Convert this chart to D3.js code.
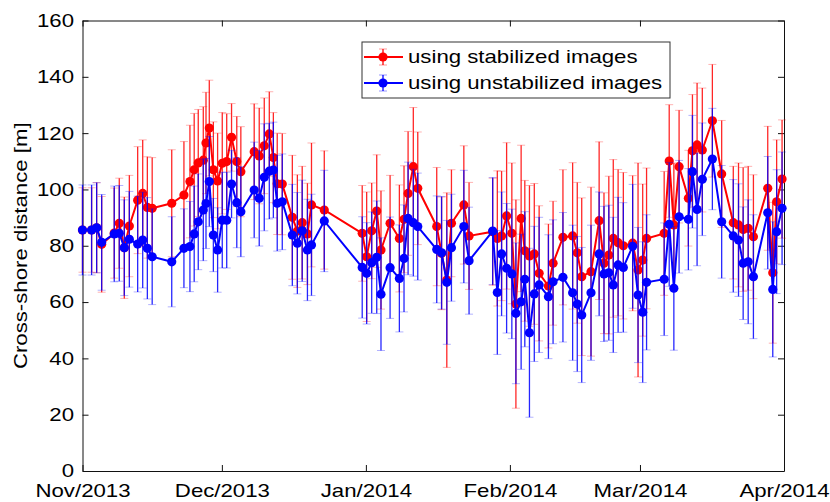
<!DOCTYPE html>
<html>
<head>
<meta charset="utf-8">
<script src="https://cdn.jsdelivr.net/npm/d3@7"></script>
<style>
body { margin: 0; background: #fff; }
text { font-family: "Liberation Sans", Arial, sans-serif; }
</style>
</head>
<body>
<div id="chart"></div>
<script>
// observation times (day, hour)
var dates = [
  "2013-11-01 00","2013-11-02 23","2013-11-04 01","2013-11-05 03","2013-11-07 20","2013-11-08 22",
  "2013-11-10 00","2013-11-11 02","2013-11-12 21","2013-11-13 23","2013-11-14 23","2013-11-16 00",
  "2013-11-20 05","2013-11-22 20","2013-11-24 03","2013-11-25 01","2013-11-25 22","2013-11-27 00",
  "2013-11-27 14","2013-11-28 07","2013-11-29 04","2013-11-30 02","2013-12-01 02","2013-12-02 01",
  "2013-12-03 02","2013-12-04 05","2013-12-05 02","2013-12-07 23","2013-12-09 01","2013-12-10 03",
  "2013-12-11 05","2013-12-12 02","2013-12-12 22","2013-12-14 00","2013-12-16 04","2013-12-17 06",
  "2013-12-18 07","2013-12-19 10","2013-12-20 07","2013-12-23 01","2013-12-31 05","2014-01-01 04",
  "2014-01-02 06","2014-01-03 08","2014-01-04 06","2014-01-06 05","2014-01-08 05","2014-01-09 05",
  "2014-01-10 02","2014-01-11 05","2014-01-12 04","2014-01-16 06","2014-01-17 07","2014-01-18 10",
  "2014-01-19 10","2014-01-22 02","2014-01-23 05","2014-01-28 07","2014-01-29 07","2014-01-30 05",
  "2014-01-31 07","2014-02-01 10","2014-02-02 07","2014-02-03 10","2014-02-04 05","2014-02-05 05",
  "2014-02-06 06","2014-02-07 07","2014-02-09 07","2014-02-10 07","2014-02-12 10","2014-02-14 12",
  "2014-02-15 12","2014-02-16 11","2014-02-18 11","2014-02-20 05","2014-02-21 06","2014-02-22 07",
  "2014-02-23 06","2014-02-24 07","2014-02-25 10","2014-02-27 10","2014-02-28 14","2014-03-01 14",
  "2014-03-02 10","2014-03-06 05","2014-03-07 07","2014-03-08 07","2014-03-09 10","2014-03-11 10",
  "2014-03-12 07","2014-03-13 07","2014-03-14 10","2014-03-16 14","2014-03-18 14","2014-03-21 02",
  "2014-03-22 05","2014-03-23 05","2014-03-24 07","2014-03-25 10","2014-03-28 12","2014-03-29 14",
  "2014-03-30 10","2014-03-31 14"
];

var stabilized = [
  85.6,85.6,86.4,80.5,84.5,88.0,79.3,87.0,96.2,98.6,93.6,93.3,
  95.1,98.0,102.8,107.0,109.4,110.4,116.5,121.8,107.0,103.0,109.3,109.9,
  118.5,109.9,106.3,113.4,111.9,115.5,119.7,111.3,102.0,101.9,90.1,85.2,
  88.2,84.2,94.5,92.7,84.4,76.1,85.3,92.3,78.5,88.0,82.6,89.4,
  98.6,108.1,100.4,86.8,77.3,67.8,88.0,94.5,83.5,85.0,82.6,83.5,
  90.6,84.4,59.3,89.7,78.2,76.4,77.1,70.2,65.7,73.8,83.0,83.5,
  77.5,69.0,70.8,88.9,73.8,76.7,82.6,81.1,80.0,80.9,71.4,74.9,
  82.6,84.4,110.1,87.4,108.1,96.9,113.7,115.8,114.0,124.4,105.5,88.2,
  87.4,85.8,86.2,83.2,100.4,70.4,95.6,103.7
];
var stabilizedErr = [
  15,15,16,17,16,16,18,18,19,19,18,18,
  19,19,20,20,19,19,18,17,17,17,18,17,
  12,16,16,17,17,17,15,16,18,18,22,20,
  20,18,22,21,17,23,17,20,21,17,19,19,
  22,21,20,21,20,31,19,21,19,19,24,23,
  26,25,37,26,25,25,25,24,22,22,24,26,
  25,28,30,28,25,28,28,26,26,24,38,27,
  25,22,20,22,20,17,20,22,22,20,19,20,
  22,22,22,22,22,25,22,21
];

var unstabilized = [
  85.6,85.6,86.4,81.2,84.2,84.4,79.3,82.3,80.6,82.0,79.1,76.1,
  74.3,79.1,79.7,84.2,88.5,92.7,95.0,102.8,83.8,78.5,89.1,89.1,
  101.9,95.3,92.1,99.8,96.9,104.3,106.5,106.9,95.1,95.6,83.8,80.9,
  85.3,78.5,80.3,88.8,72.3,70.2,74.0,75.9,62.8,72.2,68.4,75.5,
  89.7,88.2,86.8,78.7,77.5,67.0,79.3,86.8,74.7,85.2,63.4,77.1,
  72.0,70.0,56.0,60.1,68.1,49.1,62.9,66.1,61.9,67.2,68.8,63.3,
  59.3,55.4,63.3,77.1,70.0,70.4,66.1,73.2,72.3,79.8,62.5,56.4,
  67.0,68.1,87.6,64.9,90.3,89.4,106.3,92.9,103.6,110.8,88.5,83.5,
  82.0,73.8,74.3,69.0,91.7,64.5,85.0,93.3
];
var unstabilizedErr = [
  16,16,16,17,17,17,17,17,17,17,18,17,
  16,14,16,17,17,18,16,16,13,15,17,17,
  12,16,16,17,17,19,17,17,17,17,18,18,
  18,18,18,18,18,18,18,20,20,18,19,19,
  20,19,19,19,20,22,19,20,19,19,22,22,
  23,23,25,24,24,30,24,24,22,22,23,24,
  24,24,24,22,24,24,24,24,23,22,24,25,
  24,20,22,22,20,18,20,20,20,18,20,20,
  20,20,22,22,20,24,22,20
];

var monthTicks = ["2013-11-01 00","2013-12-01 00","2014-01-01 00","2014-02-01 00","2014-03-01 00","2014-04-01 00"];
var monthLabels = ["Nov/2013","Dec/2013","Jan/2014","Feb/2014","Mar/2014","Apr/2014"];
var yTicks = [0, 20, 40, 60, 80, 100, 120, 140, 160];
var seriesNames = ["using stabilized images", "using unstabilized images"];
var seriesColors = ["#ff0000", "#0000ff"];

var margin = {top: 20.5, right: 46, bottom: 31, left: 82.5},
    width = 830 - margin.left - margin.right,
    height = 502 - margin.top - margin.bottom;

var parse = d3.timeParse("%Y-%m-%d %H");

var svg = d3.select("#chart").append("svg")
    .attr("width", 830)
    .attr("height", 502);

var g = svg.append("g").attr("transform", "translate(" + margin.left + "," + margin.top + ")");

var x = d3.scaleTime()
    .domain([parse(monthTicks[0]), parse(monthTicks[monthTicks.length - 1])])
    .range([0, width]);

var y = d3.scaleLinear()
    .domain([0, 160])
    .range([height, 0]);

var tickDates = monthTicks.map(parse);

// axes, ticks pointing inward on all four sides
g.append("g")
    .attr("class", "axis")
    .attr("transform", "translate(0," + height + ")")
    .call(d3.axisBottom(x).tickValues(tickDates).tickSizeInner(-6).tickSizeOuter(0).tickPadding(13)
      .tickFormat(function(d, i) { return monthLabels[i]; }));

g.append("g")
    .attr("class", "axis")
    .call(d3.axisTop(x).tickValues(tickDates).tickSizeInner(-6).tickSizeOuter(0).tickFormat(""));

g.append("g")
    .attr("class", "axis")
    .call(d3.axisLeft(y).tickValues(yTicks).tickSizeInner(-6).tickSizeOuter(0).tickPadding(8.5));

g.append("g")
    .attr("class", "axis")
    .attr("transform", "translate(" + width + ",0)")
    .call(d3.axisRight(y).tickValues(yTicks).tickSizeInner(-6).tickSizeOuter(0).tickFormat(""));

g.selectAll(".axis path, .axis line").attr("stroke", "#111").attr("stroke-width", 1);
g.selectAll(".axis text").attr("fill", "#000").attr("font-size", "18.5px")
    .attr("font-family", "'Liberation Sans', Arial, sans-serif");

svg.append("text")
    .attr("transform", "translate(21," + (margin.top + height / 2) + ") rotate(-90)")
    .attr("text-anchor", "middle")
    .attr("dy", "0.35em")
    .attr("font-size", "18.5px")
    .text("Cross-shore distance [m]");

function drawSeries(values, errs, color) {
  var pts = dates.map(function(d, i) { return {t: parse(d), v: values[i], e: errs[i]}; });
  var s = g.append("g");

  s.selectAll(".bar").data(pts).enter().append("line")
      .attr("x1", function(d) { return x(d.t); })
      .attr("x2", function(d) { return x(d.t); })
      .attr("y1", function(d) { return y(d.v - d.e); })
      .attr("y2", function(d) { return y(d.v + d.e); })
      .attr("stroke", color).attr("stroke-width", 1.3).attr("stroke-opacity", 0.85);

  [-1, 1].forEach(function(k) {
    s.selectAll(".cap" + k).data(pts).enter().append("line")
        .attr("x1", function(d) { return x(d.t) - 4; })
        .attr("x2", function(d) { return x(d.t) + 4; })
        .attr("y1", function(d) { return y(d.v + k * d.e); })
        .attr("y2", function(d) { return y(d.v + k * d.e); })
        .attr("stroke", color).attr("stroke-width", 1).attr("stroke-opacity", 0.3);
  });

  s.append("path")
      .datum(pts)
      .attr("fill", "none")
      .attr("stroke", color)
      .attr("stroke-width", 2)
      .attr("d", d3.line().x(function(d) { return x(d.t); }).y(function(d) { return y(d.v); }));

  s.selectAll("circle").data(pts).enter().append("circle")
      .attr("cx", function(d) { return x(d.t); })
      .attr("cy", function(d) { return y(d.v); })
      .attr("r", 4.6)
      .attr("fill", color);
}

drawSeries(stabilized, stabilizedErr, seriesColors[0]);
drawSeries(unstabilized, unstabilizedErr, seriesColors[1]);

// legend
var legend = svg.append("g").attr("transform", "translate(362,42)");
legend.append("rect")
    .attr("width", 308).attr("height", 56)
    .attr("fill", "#fff").attr("stroke", "#333").attr("stroke-width", 1);

var items = legend.selectAll(".item").data(seriesNames).enter().append("g")
    .attr("transform", function(d, i) { return "translate(0," + (15 + i * 26) + ")"; });

items.append("line")
    .attr("x1", 2).attr("x2", 41).attr("y1", 0).attr("y2", 0)
    .attr("stroke", function(d, i) { return seriesColors[i]; }).attr("stroke-width", 2);
items.append("line")
    .attr("x1", 21).attr("x2", 21).attr("y1", -8).attr("y2", 8)
    .attr("stroke", function(d, i) { return seriesColors[i]; }).attr("stroke-width", 1.3);
items.append("line")
    .attr("x1", 17).attr("x2", 25).attr("y1", -8).attr("y2", -8)
    .attr("stroke", function(d, i) { return seriesColors[i]; }).attr("stroke-opacity", 0.4);
items.append("line")
    .attr("x1", 17).attr("x2", 25).attr("y1", 8).attr("y2", 8)
    .attr("stroke", function(d, i) { return seriesColors[i]; }).attr("stroke-opacity", 0.4);
items.append("circle")
    .attr("cx", 21).attr("cy", 0).attr("r", 4.6)
    .attr("fill", function(d, i) { return seriesColors[i]; });
items.append("text")
    .attr("x", 46).attr("dy", "0.35em")
    .attr("font-size", "18.5px")
    .attr("fill", "#000")
    .text(function(d) { return d; });

// the original figure's lettering is a little wider than Liberation Sans
svg.selectAll("text").each(function() {
  var len = this.getComputedTextLength();
  if (len > 0) {
    d3.select(this).attr("textLength", len * 1.2).attr("lengthAdjust", "spacingAndGlyphs");
  }
});
</script>
</body>
</html>
